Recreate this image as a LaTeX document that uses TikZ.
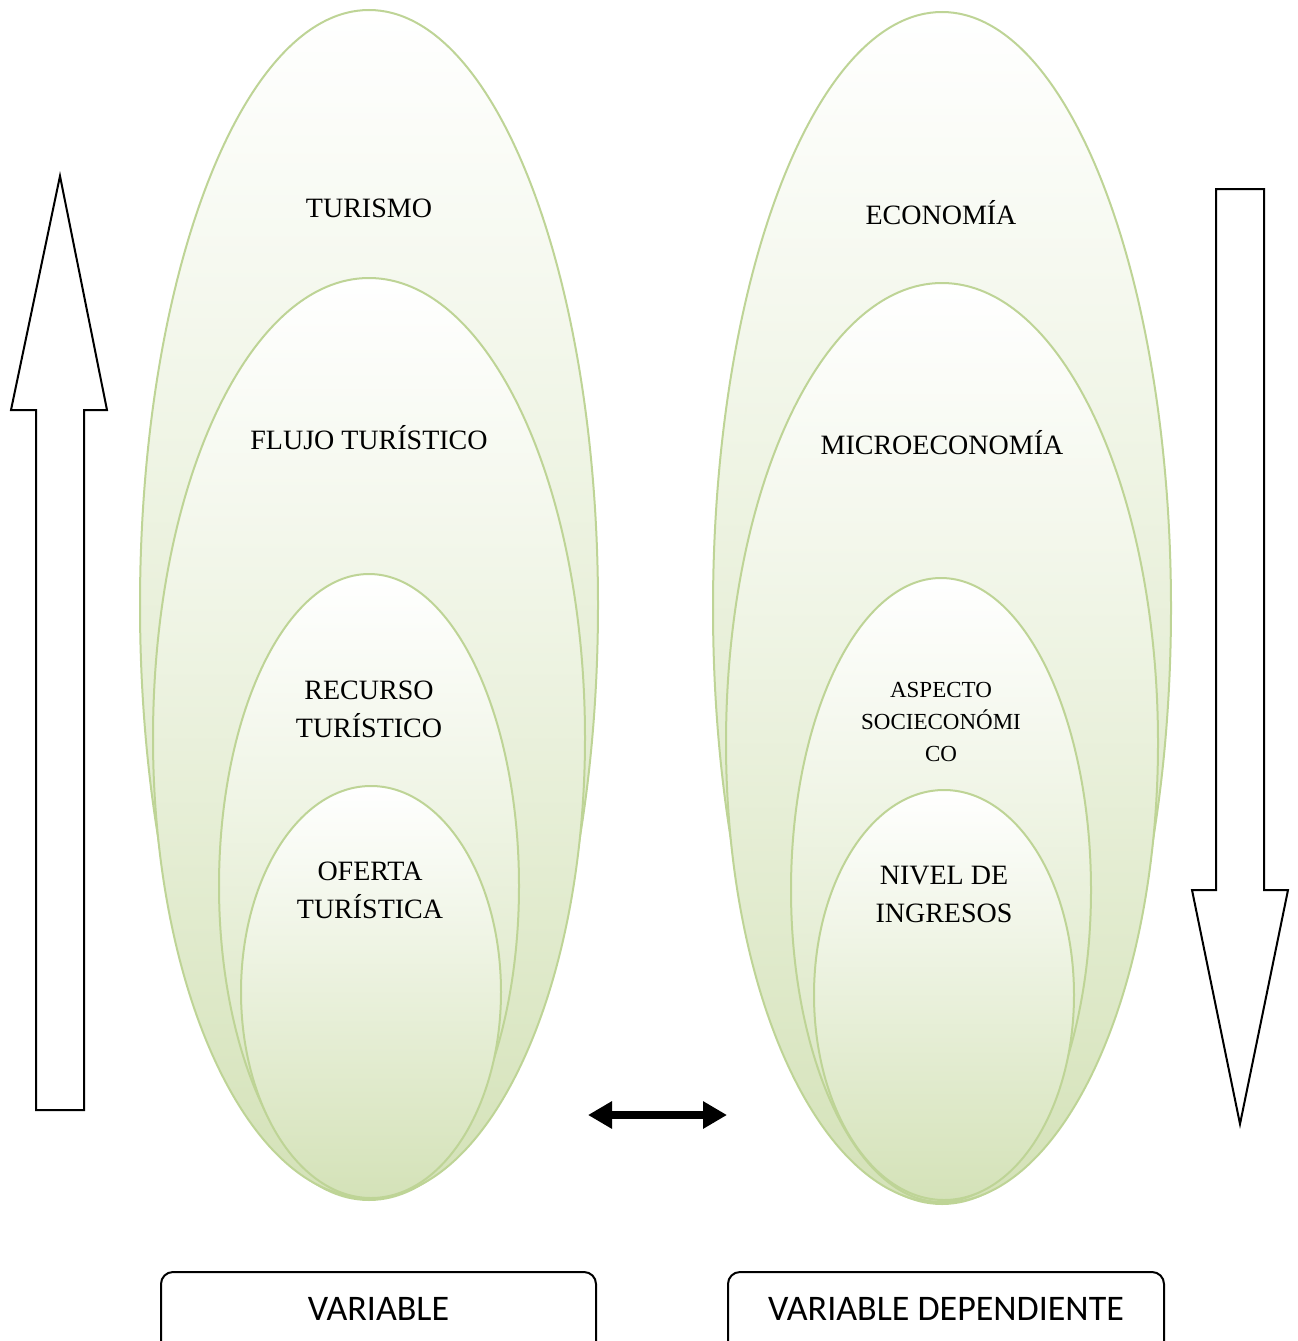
\documentclass[tikz,border=0pt]{standalone}
\usepackage{fontspec}
\setmainfont{Liberation Serif}
\newfontfamily\boxfont{Carlito}
\usetikzlibrary{arrows.meta}
\definecolor{ellline}{RGB}{190,212,150}
\definecolor{ellfill}{RGB}{212,226,184}

\begin{document}
\begin{tikzpicture}[x=1pt,y=-1pt,line join=miter,
  ell/.style={top color=white,bottom color=ellfill,draw=ellline,line width=2pt},
  lbl/.style={align=center,inner sep=0pt,font=\fontsize{28}{38}\selectfont},
  lblsmall/.style={align=center,inner sep=0pt,font=\fontsize{23}{32}\selectfont},
  bigarrow/.style={draw=black,line width=2pt,fill=white},
  varbox/.style={draw=black,line width=2pt,rounded corners=12pt}]
  \useasboundingbox (0,0) rectangle (1298,1341);

  % left column
  \path[ell] (369,605) ellipse [x radius=229,y radius=595];
  \path[ell] (369,738) ellipse [x radius=216,y radius=460];
  \path[ell] (369,886) ellipse [x radius=150,y radius=312];
  \path[ell] (371,992) ellipse [x radius=130,y radius=206];
  \node[lbl] (turismo) at (369,208) {TURISMO};
  \node[lbl] (flujo) at (369,438) {FLUJO TURÍSTICO};
  \node[lbl] (recurso) at (369,709) {RECURSO\\TURÍSTICO};
  \node[lbl] (oferta) at (370,890) {OFERTA\\TURÍSTICA};

  % right column
  \path[ell] (942,608) ellipse [x radius=229,y radius=596];
  \path[ell] (942,743) ellipse [x radius=216,y radius=460];
  \path[ell] (941,890) ellipse [x radius=150,y radius=312];
  \path[ell] (944,995) ellipse [x radius=130,y radius=205];
  \node[lbl] (economia) at (941,213) {ECONOMÍA};
  \node[lbl] (micro) at (942,443) {MICROECONOMÍA};
  \node[lblsmall] (aspecto) at (941,722) {ASPECTO\\SOCIECONÓMI\\CO};
  \node[lbl] (nivel) at (944,894) {NIVEL DE\\INGRESOS};

  % big arrows
  \draw[bigarrow] (36,1110) -- (36,410) -- (11,410) -- (60,176) -- (107,410)
    -- (84,410) -- (84,1110) -- cycle;
  \draw[bigarrow] (1216,189) -- (1264,189) -- (1264,890) -- (1288,890)
    -- (1240,1124) -- (1192,890) -- (1216,890) -- cycle;

  % double arrow
  \coordinate (dl) at (588,1115);
  \coordinate (dr) at (727,1115);
  \draw[line width=8pt,{Triangle[length=24pt,width=26pt]}-{Triangle[length=24pt,width=26pt]}] (dl) -- (dr);

  % boxes
  \draw[varbox] (161,1360) -- (161,1272) -- (596,1272) -- (596,1360);
  \draw[varbox] (728,1360) -- (728,1272) -- (1164,1272) -- (1164,1360);
  \node[font=\boxfont\fontsize{36}{40}\selectfont] (var) at (378.5,1309) {VARIABLE};
  \node[font=\boxfont\fontsize{36}{40}\selectfont] (vardep) at (946,1309) {VARIABLE DEPENDIENTE};
\end{tikzpicture}
\end{document}
